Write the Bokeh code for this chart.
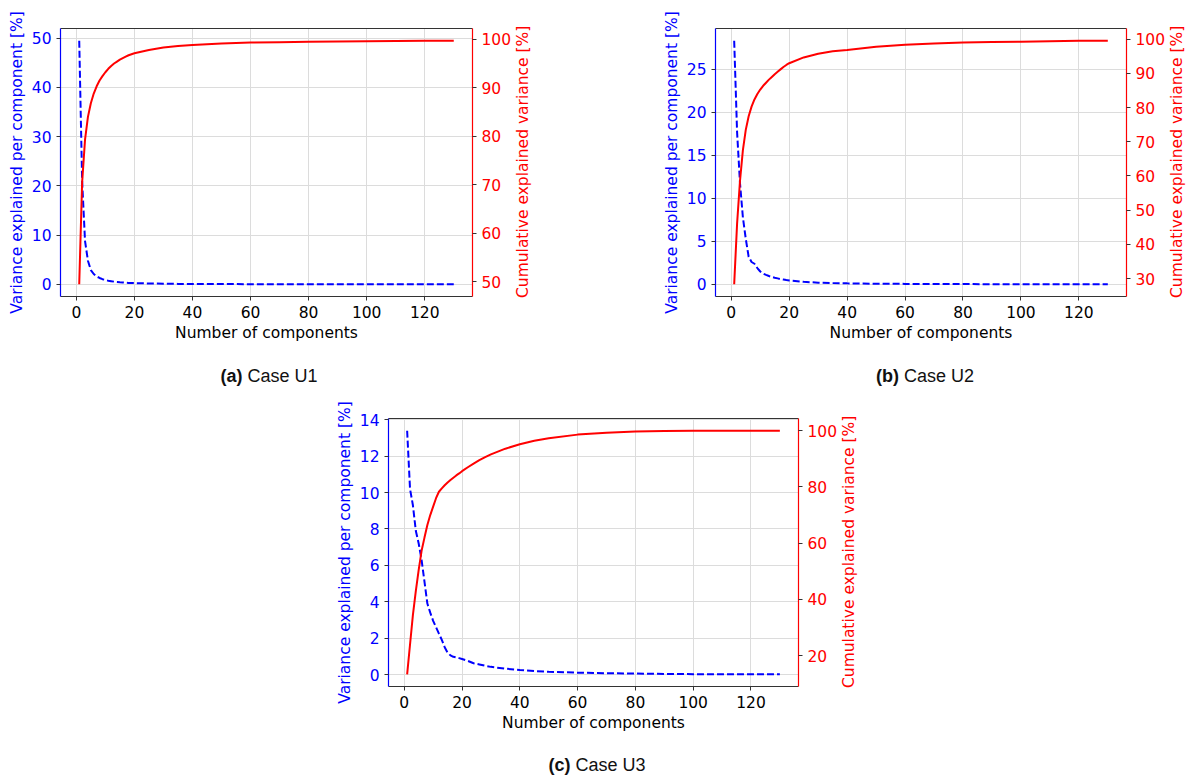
from bokeh.plotting import figure
from bokeh.models import Range1d, LinearAxis, FixedTicker, Div, Spacer
from bokeh.layouts import column, row
from bokeh.embed import file_html
from bokeh.resources import INLINE

# ---------------- data ----------------
x_ticks = [0, 20, 40, 60, 80, 100, 120]

# Case U1
comp_a = list(range(1, 21)) + [25, 30, 35, 40, 50, 60, 70, 80, 90, 100, 110, 120, 130]
var_a = [49.5, 21.0, 8.8, 4.8, 2.9, 2.1, 1.6, 1.3, 1.05, 0.9, 0.75, 0.65, 0.55, 0.5, 0.42,
         0.38, 0.33, 0.3, 0.27, 0.25, 0.18, 0.13, 0.1, 0.08, 0.06, 0.04, 0.035, 0.03, 0.025,
         0.02, 0.015, 0.012, 0.01]
cum_a = [49.5, 70.5, 79.3, 84.0, 86.8, 88.8, 90.3, 91.5, 92.4, 93.2, 93.9, 94.5, 95.0, 95.4,
         95.8, 96.1, 96.4, 96.7, 96.9, 97.1, 97.8, 98.3, 98.6, 98.8, 99.1, 99.3, 99.4, 99.5,
         99.55, 99.6, 99.65, 99.7, 99.7]
left_ticks_a = [0, 10, 20, 30, 40, 50]
right_ticks_a = [50, 60, 70, 80, 90, 100]

# Case U2
comp_b = list(range(1, 21)) + [25, 30, 35, 40, 50, 60, 70, 80, 90, 100, 110, 120, 130]
var_b = [28.3, 17.7, 11.8, 7.8, 5.3, 3.2, 2.6, 2.4, 1.9, 1.5, 1.25, 1.1, 0.97, 0.86, 0.77,
         0.7, 0.62, 0.56, 0.5, 0.45, 0.3, 0.2, 0.15, 0.12, 0.08, 0.06, 0.045, 0.035, 0.03,
         0.02, 0.015, 0.012, 0.01]
cum_b = [28.3, 46.0, 58.5, 67.5, 73.5, 77.5, 80.3, 82.4, 84.0, 85.3, 86.4, 87.3, 88.2, 89.0,
         89.8, 90.5, 91.2, 91.9, 92.5, 93.0, 94.7, 95.8, 96.5, 96.9, 97.8, 98.4, 98.8, 99.05,
         99.2, 99.3, 99.45, 99.55, 99.6]
left_ticks_b = [0, 5, 10, 15, 20, 25]
right_ticks_b = [30, 40, 50, 60, 70, 80, 90, 100]

# Case U3
comp_c = list(range(1, 21)) + [22, 24, 26, 28, 30, 35, 40, 45, 50, 60, 70, 80, 90, 100, 110, 120, 130]
var_c = [13.4, 10.2, 9.3, 7.9, 7.2, 6.3, 5.1, 3.9, 3.4, 2.95, 2.6, 2.25, 1.9, 1.5, 1.2, 1.05,
         0.97, 0.94, 0.9, 0.85, 0.75, 0.62, 0.55, 0.48, 0.42, 0.32, 0.25, 0.19, 0.15, 0.1,
         0.07, 0.05, 0.03, 0.02, 0.02, 0.01, 0.01]
cum_c = [13.4, 24.0, 34.5, 43.0, 50.5, 57.3, 62.0, 66.5, 70.0, 73.0, 76.0, 78.3, 79.5, 80.6,
         81.6, 82.5, 83.3, 84.1, 84.8, 85.6, 87.0, 88.3, 89.5, 90.6, 91.6, 93.6, 95.2, 96.4,
         97.3, 98.6, 99.3, 99.7, 99.9, 100.0, 100.0, 100.0, 100.0]
left_ticks_c = [0, 2, 4, 6, 8, 10, 12, 14]
right_ticks_c = [20, 40, 60, 80, 100]

captions = [("(a)", "Case U1"), ("(b)", "Case U2"), ("(c)", "Case U3")]
left_label = "Variance explained per component [%]"
right_label = "Cumulative explained variance [%]"
bottom_label = "Number of components"

# ---------------- styling ----------------
FONT = "DejaVu Sans"
FS = "15.5px"
GRID = "#dcdcdc"
SPINE = "#333333"
MBR = 42  # right border of each figure (ticks + tick labels)


def pad(lo, hi, f=0.05):
    m = (hi - lo) * f
    return lo - m, hi + m


def style_axis(ax, color, line_color):
    ax.axis_line_color = line_color
    ax.axis_line_width = 1.2
    ax.major_tick_line_color = SPINE
    ax.major_tick_in = 0
    ax.major_tick_out = 4
    ax.minor_tick_line_color = None
    ax.major_label_text_font = FONT
    ax.major_label_text_font_size = FS
    ax.major_label_text_color = color
    ax.major_label_standoff = 5
    ax.axis_label_text_font = FONT
    ax.axis_label_text_font_size = FS
    ax.axis_label_text_font_style = "normal"
    ax.axis_label_text_color = color
    ax.axis_label_standoff = 3


def make_panel(comp, var, cum, lticks, rticks, mbl, fw):
    xlo, xhi = pad(min(comp), max(comp))
    ylo, yhi = pad(min(var), max(var))
    rlo, rhi = pad(min(cum), max(cum))
    p = figure(frame_width=fw, frame_height=268,
               min_border_left=mbl, min_border_right=MBR,
               min_border_top=28, min_border_bottom=49,
               x_range=Range1d(xlo, xhi), y_range=Range1d(ylo, yhi),
               output_backend="svg", toolbar_location=None)
    p.outline_line_color = None
    p.background_fill_color = "white"
    p.border_fill_color = "white"
    p.extra_y_ranges = {"right": Range1d(rlo, rhi)}

    bx = p.xaxis[0]
    bx.ticker = FixedTicker(ticks=x_ticks)
    bx.axis_label = bottom_label
    style_axis(bx, "black", SPINE)

    ly = p.yaxis[0]
    ly.ticker = FixedTicker(ticks=lticks)
    ly.axis_label = left_label
    style_axis(ly, "blue", "blue")

    ry = LinearAxis(y_range_name="right", ticker=FixedTicker(ticks=rticks))
    style_axis(ry, "red", "red")
    p.add_layout(ry, "right")

    tx = LinearAxis(ticker=FixedTicker(ticks=[]))
    tx.axis_line_color = SPINE
    tx.axis_line_width = 1.2
    tx.major_tick_line_color = None
    tx.minor_tick_line_color = None
    tx.major_label_text_font_size = "0px"
    p.add_layout(tx, "above")

    p.xgrid.ticker = FixedTicker(ticks=x_ticks)
    p.ygrid.ticker = FixedTicker(ticks=lticks)
    p.xgrid.grid_line_color = GRID
    p.ygrid.grid_line_color = GRID
    p.xgrid.grid_line_width = 1
    p.ygrid.grid_line_width = 1

    p.line(comp, var, line_color="blue", line_width=2, line_dash="7 3")
    p.line(comp, cum, line_color="red", line_width=2, y_range_name="right")
    return p


def right_title(width):
    # vertical title reading bottom-to-top, centred on the plot frame
    html = ('<div style="writing-mode:vertical-rl;transform:rotate(180deg);width:18px;'
            'height:324px;line-height:18px;text-align:center;font-family:\'DejaVu Sans\';'
            'font-size:15.5px;color:red;white-space:nowrap">%s</div>' % right_label)
    return Div(text=html, width=width, height=345, margin=0)


def caption(tag, text, width, height, center, top):
    html = ('<div style="width:200px;margin-left:%dpx;padding-top:%dpx;text-align:center;'
            'font-family:\'Liberation Sans\',Arial,sans-serif;font-size:18px;line-height:18px;'
            'color:#111;white-space:nowrap"><b>%s</b> %s</div>' % (center - 100, top, tag, text))
    return Div(text=html, width=width, height=height, margin=0)


pa = make_panel(comp_a, var_a, cum_a, left_ticks_a, right_ticks_a, 60, 412)
pb = make_panel(comp_b, var_b, cum_b, left_ticks_b, right_ticks_b, 119, 411)
pc = make_panel(comp_c, var_c, cum_c, left_ticks_c, right_ticks_c, 88, 410)

ra = right_title(596 - (60 + 412 + MBR))
rb = right_title(1192 - 596 - (119 + 411 + MBR))
rc = right_title(40)

da = caption(captions[0][0], captions[0][1], 596, 45, 269, 22)
db = caption(captions[1][0], captions[1][1], 596, 45, 329, 22)
dc = caption(captions[2][0], captions[2][1], 1192, 44, 597, 21)

layout = column(
    row(pa, ra, pb, rb),
    row(da, db),
    row(Spacer(width=300, height=345, margin=0), pc, rc),
    dc,
)

open("out.html", "w").write(file_html(layout, INLINE))
